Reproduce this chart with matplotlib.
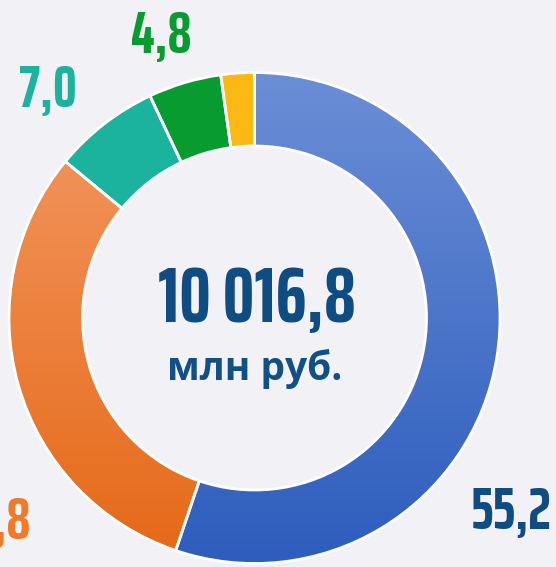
import numpy as np
import matplotlib.pyplot as plt
from matplotlib.colors import LinearSegmentedColormap

# shares of total, %
shares = [55.2, 30.8, 7.0, 4.8, 2.2]
share_labels = ["55,2", "30,8", "7,0", "4,8", ""]
total_label = "10 016,8"
unit_label = "млн руб."

bg = "#F2F1F6"
top_colors = ["#6B8ED6", "#F49A66", "#1BB39E", "#089B30", "#FDB913"]
bottom_colors = ["#2D5DBD", "#E56917", "#1BB39E", "#089B30", "#FDB913"]
label_colors = ["#0F4C81", "#EE7A2A", "#1BB39E", "#089B30", "#FDB913"]

W, H = 556, 567
fig = plt.figure(figsize=(W / 100, H / 100), dpi=100, facecolor=bg)
ax = fig.add_axes([0, 0, 1, 1])

cx, cy, r = 254.5, H - 318, 245.5
wedges, _ = ax.pie(shares, startangle=90, counterclock=False, radius=r,
                   center=(cx, cy), frame=True,
                   wedgeprops=dict(width=73.5, edgecolor="white", linewidth=2))

# vertical gradient fill inside each wedge
grad = np.linspace(1, 0, 256).reshape(-1, 1)
for w, c0, c1 in zip(wedges, top_colors, bottom_colors):
    w.set_facecolor("none")
    cmap = LinearSegmentedColormap.from_list("g", [c1, c0])
    im = ax.imshow(grad, cmap=cmap, extent=(cx - r, cx + r, cy - r, cy + r),
                   origin="upper", aspect="auto", zorder=0.5)
    im.set_clip_path(w)

ax.set_xlim(0, W)
ax.set_ylim(0, H)
ax.set_aspect("equal")
ax.axis("off")

num_font = ["Saira ExtraCondensed", "Saira Condensed", "DejaVu Sans"]
ax.text(cx + 2, H - 322, total_label, ha="center", va="baseline", fontsize=57,
        fontweight="bold", family=num_font, color="#0F4C81")
ax.text(cx, H - 380, unit_label, ha="center", va="baseline", fontsize=28,
        fontweight="bold", family=["Open Sans", "DejaVu Sans"], color="#124F85")

# outside labels: x, baseline y, alignment
label_pos = [(552, H - 529, "right"), (31, H - 539, "right"),
             (48, H - 107, "center"), (161, H - 53, "center")]
for (x, y, ha), txt, col in zip(label_pos, share_labels, label_colors):
    ax.text(x, y, txt, ha=ha, va="baseline", fontsize=43, fontweight="bold",
            family=num_font, color=col)

fig.savefig("out.png", dpi=100, facecolor=bg)
